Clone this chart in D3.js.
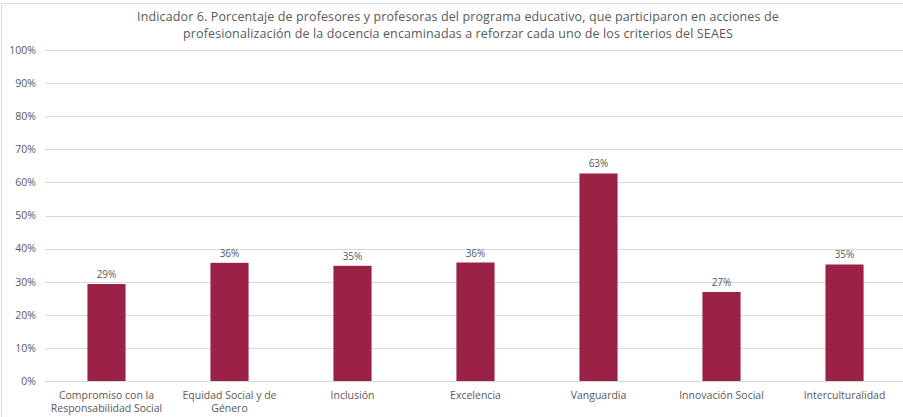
<!DOCTYPE html>
<html><head><meta charset="utf-8">
<script src="https://cdn.jsdelivr.net/npm/d3@7"></script>
<style>body{margin:0;background:#fff;}svg{display:block;font-family:"Open Sans",sans-serif;}</style>
</head><body><svg id="c" width="903" height="417"></svg>
<script>
const categories = [["Compromiso con la","Responsabilidad Social"],["Equidad Social y de","Género"],["Inclusión"],["Excelencia"],["Vanguardia"],["Innovación Social"],["Interculturalidad"]];
const values = [29.3, 35.7, 34.8, 35.8, 62.7, 26.9, 35.2];
const labels = ["29%","36%","35%","36%","63%","27%","35%"];
const yTicks = [0,10,20,30,40,50,60,70,80,90,100];
const titleLines = ["Indicador 6. Porcentaje de profesores y profesoras del programa educativo, que participaron en acciones de","profesionalización de la docencia encaminadas a reforzar cada uno de los criterios del SEAES"];

const svg = d3.select("#c");
svg.append("rect").attr("x",1.5).attr("y",3.5).attr("width",920).attr("height",430).attr("fill","#fff").attr("stroke","#d9d9d9");

const x = d3.scaleBand().domain(d3.range(categories.length)).range([45,906]).paddingInner(0.69).paddingOuter(0.345);
const y = d3.scaleLinear().domain([0,100]).range([381,50]);

svg.append("g").selectAll("line").data(yTicks).join("line")
  .attr("x1",45).attr("x2",906).attr("y1",d=>Math.round(y(d))+0.5).attr("y2",d=>Math.round(y(d))+0.5)
  .attr("stroke","#d9d9d9").attr("stroke-width",1);

const yAxis = d3.axisLeft(y).tickValues(yTicks).tickFormat(d=>d+"%").tickSize(0).tickPadding(0);
const ya = svg.append("g").attr("transform","translate(36,0)").call(yAxis);
ya.select(".domain").remove();
ya.selectAll("text").attr("fill","#595959").style("font-size","10.5px").style("font-family","'Open Sans',sans-serif");

svg.append("g").selectAll("rect").data(values).join("rect")
  .attr("x",(d,i)=>x(i)).attr("width",x.bandwidth())
  .attr("y",d=>y(d)).attr("height",d=>y(0)-y(d)).attr("fill","#9B2247");

svg.append("g").selectAll("text").data(values).join("text")
  .attr("x",(d,i)=>x(i)+x.bandwidth()/2).attr("y",d=>y(d)-6)
  .attr("text-anchor","middle").attr("fill","#595959").style("font-size","10px").text((d,i)=>labels[i]);

const xg = svg.append("g");
categories.forEach((lines,i)=>{
  const t = xg.append("text").attr("x",x(i)+x.bandwidth()/2).attr("y",399).attr("text-anchor","middle")
    .attr("fill","#595959").style("font-size","10.5px");
  lines.forEach((l,j)=>t.append("tspan").attr("x",x(i)+x.bandwidth()/2).attr("dy",j?13:0).text(l));
});

svg.append("g").selectAll("text").data(titleLines).join("text")
  .attr("x",458).attr("y",(d,i)=>21+i*17).attr("text-anchor","middle")
  .attr("fill","#595959").style("font-size","12.5px").style("letter-spacing","0.12px").text(d=>d);
</script></body></html>
